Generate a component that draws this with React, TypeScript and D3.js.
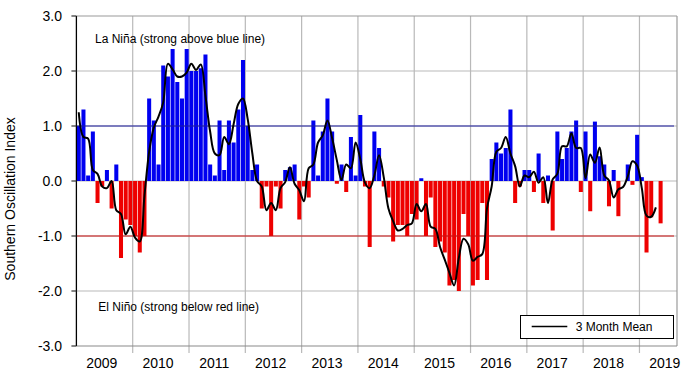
import React from 'react';
import * as d3 from 'd3';

// ---- data (monthly SOI, Jan 2009 .. May 2019) ----
const yearLabels = ['2009', '2010', '2011', '2012', '2013', '2014', '2015', '2016', '2017', '2018', '2019'];

const soi2009 = [1.0, 1.3, 0.1, 0.9, -0.4, -0.1, 0.2, -0.5, 0.3, -1.4, -0.7, -0.8];
const soi2010 = [-1.0, -1.3, -1.0, 1.5, 1.1, 0.3, 2.1, 1.9, 2.4, 1.8, 1.5, 2.4];
const soi2011 = [2.0, 2.0, 2.05, 2.3, 0.3, 0.1, 1.1, 0.2, 1.1, 0.7, 1.3, 2.2];
const soi2012 = [1.0, 0.2, 0.3, -0.5, -0.1, -1.0, -0.1, -0.5, 0.2, 0.25, 0.3, -0.7];
const soi2013 = [-0.1, -0.3, 1.1, 0.1, 0.9, 1.5, 0.9, -0.05, 0.3, -0.2, 0.8, 0.1];
const soi2014 = [1.2, -0.1, -1.2, 0.9, 0.6, -0.1, -0.3, -1.1, -0.8, -0.8, -1.0, -0.6];
const soi2015 = [-0.7, 0.05, -1.0, -0.3, -1.2, -1.1, -1.3, -1.9, -1.8, -2.0, -0.6, -1.0];
const soi2016 = [-1.9, -1.8, -0.4, -1.8, 0.4, 0.7, 0.5, 0.6, 1.3, -0.4, -0.1, 0.2];
const soi2017 = [0.2, -0.2, 0.5, -0.4, 0.1, -0.9, 0.9, 0.4, 0.6, 0.9, 1.1, -0.2];
const soi2018 = [0.9, -0.55, 1.08, 0.45, 0.3, -0.46, 0.2, -0.64, 0.0, 0.3, -0.07, 0.84];
const soi2019 = [0.07, -1.3, -0.66, 0.0, -0.77];

// 3 month mean
const mean2009 = [1.25, 0.8, 0.77, 0.2, 0.13, -0.1, -0.13, 0.0, -0.53, -0.6, -0.97, -0.83];
const mean2010 = [-1.03, -1.1, -0.27, 0.53, 0.97, 1.17, 1.43, 2.13, 2.03, 1.9, 1.9, 1.97];
const mean2011 = [2.13, 2.02, 2.12, 1.55, 0.9, 0.5, 0.47, 0.8, 0.67, 1.03, 1.4, 1.5];
const mean2012 = [1.13, 0.5, 0.0, -0.1, -0.53, -0.4, -0.53, -0.13, -0.02, 0.25, -0.05, -0.17];
const mean2013 = [-0.37, 0.23, 0.3, 0.7, 0.83, 1.1, 0.78, 0.38, 0.02, 0.3, 0.23, 0.7];
const mean2014 = [0.4, -0.03, -0.13, 0.1, 0.47, 0.07, -0.5, -0.73, -0.9, -0.87, -0.8, -0.77];
const mean2015 = [-0.42, -0.55, -0.42, -0.83, -0.87, -1.2, -1.43, -1.67, -1.9, -1.4, -1.05, -1.15];
const mean2016 = [-1.45, -1.38, -1.33, -0.5, -0.1, 0.53, 0.6, 0.8, 0.5, 0.27, -0.1, 0.1];
const mean2017 = [0.07, 0.17, -0.03, 0.07, -0.4, 0.03, 0.13, 0.63, 0.63, 0.87, 0.6, 0.6];
const mean2018 = [0.05, 0.48, 0.33, 0.61, 0.1, 0.01, -0.3, -0.15, -0.11, 0.08, 0.36, 0.28];
const mean2019 = [-0.13, -0.63, -0.65, -0.48];

const yTicks = [3, 2, 1, 0, -1, -2, -3];
const gridValues = [2, 1, 0, -1, -2];

const soi = [
  ...soi2009, ...soi2010, ...soi2011, ...soi2012, ...soi2013, ...soi2014,
  ...soi2015, ...soi2016, ...soi2017, ...soi2018, ...soi2019,
];
const mean3 = [
  ...mean2009, ...mean2010, ...mean2011, ...mean2012, ...mean2013, ...mean2014,
  ...mean2015, ...mean2016, ...mean2017, ...mean2018, ...mean2019,
];

const W = 690;
const H = 374;
const LEFT = 76.4;
const RIGHT = 677;
const TOP = 16;
const BOTTOM = 346;
const TOTAL_MONTHS = 128;
const FONT = '"Liberation Sans", Arial, Helvetica, sans-serif';

export default function App() {
  const x = d3.scaleLinear().domain([0, TOTAL_MONTHS]).range([LEFT, RIGHT]);
  const y = d3.scaleLinear().domain([-3, 3]).range([BOTTOM, TOP]);
  const step = x(1) - x(0);
  const barW = step * 0.86;

  const linePath = d3
    .line<number>()
    .x((_, i) => x(i + 0.5))
    .y((d) => y(d))
    .curve(d3.curveCatmullRom.alpha(0.5))(mean3) || '';

  const gridColor = '#b9b9b9';

  return (
    <div style={{ position: 'absolute', left: 0, top: 0 }}>
      <svg width={W} height={H} style={{ display: 'block', background: '#fff' }} fontFamily={FONT}>
        <rect x={0} y={0} width={W} height={H} fill="#fff" />

        {/* horizontal gridlines */}
        {gridValues.map((v) => (
          <line key={'h' + v} x1={LEFT} x2={RIGHT} y1={y(v)} y2={y(v)} stroke={gridColor} strokeWidth={1.2} />
        ))}
        {/* vertical gridlines / year boundaries */}
        {yearLabels.slice(1).map((_, k) => (
          <line
            key={'v' + k}
            x1={x(12 * (k + 1))}
            x2={x(12 * (k + 1))}
            y1={TOP}
            y2={BOTTOM + 7}
            stroke={gridColor}
            strokeWidth={1.2}
          />
        ))}
        {/* plot border */}
        <line x1={LEFT} x2={RIGHT} y1={TOP} y2={TOP} stroke="#9a9a9a" strokeWidth={1.2} />
        <line x1={RIGHT} x2={RIGHT} y1={TOP} y2={BOTTOM} stroke="#9a9a9a" strokeWidth={1.2} />
        <line x1={LEFT} x2={RIGHT} y1={BOTTOM} y2={BOTTOM} stroke="#8a8a8a" strokeWidth={1.2} />

        {/* bars */}
        {soi.map((v, i) => {
          const y0 = y(0);
          const yv = y(v);
          return (
            <rect
              key={'b' + i}
              x={x(i) + 0.35}
              width={barW}
              y={Math.min(y0, yv)}
              height={Math.abs(yv - y0)}
              fill={v >= 0 ? '#0000f0' : '#ee0000'}
            />
          );
        })}

        {/* threshold lines */}
        <line x1={LEFT} x2={674} y1={y(1)} y2={y(1)} stroke="#1c1ca0" strokeWidth={1.2} />
        <line x1={LEFT} x2={674} y1={y(-1)} y2={y(-1)} stroke="#cc1111" strokeWidth={1.2} />

        {/* 3 month mean */}
        <path d={linePath} fill="none" stroke="#000" strokeWidth={2} strokeLinejoin="round" />

        {/* left axis */}
        <line x1={LEFT} x2={LEFT} y1={TOP} y2={BOTTOM} stroke="#000" strokeWidth={1.3} />
        {yTicks.map((v) => (
          <g key={'t' + v}>
            <line x1={LEFT - 5} x2={LEFT} y1={y(v)} y2={y(v)} stroke="#333" strokeWidth={1.2} />
            <text x={62} y={y(v) + 5.3} textAnchor="end" fontSize={14} fill="#000">
              {v.toFixed(1)}
            </text>
          </g>
        ))}

        {/* year labels */}
        {yearLabels.map((lab, k) => (
          <text key={'y' + lab} x={x(12 * k + 5.4)} y={368} textAnchor="middle" fontSize={14} fill="#000">
            {lab}
          </text>
        ))}

        {/* axis title */}
        <text
          transform={`translate(15, 199) rotate(-90)`}
          textAnchor="middle"
          fontSize={14}
          fill="#000"
        >
          Southern Oscillation Index
        </text>

        {/* annotations */}
        <text x={95} y={42.5} fontSize={12} fill="#000">
          La Niña (strong above blue line)
        </text>
        <text x={98.3} y={311} fontSize={12} fill="#000">
          El Niño (strong below red line)
        </text>

        {/* legend */}
        <rect x={520.5} y={315.5} width={153} height={23} fill="#fff" stroke="#000" strokeWidth={1} />
        <line x1={531.7} x2={567.3} y1={326.5} y2={326.5} stroke="#000" strokeWidth={1.3} />
        <text x={575.7} y={331} fontSize={12} fill="#000">
          3 Month Mean
        </text>
      </svg>
    </div>
  );
}
